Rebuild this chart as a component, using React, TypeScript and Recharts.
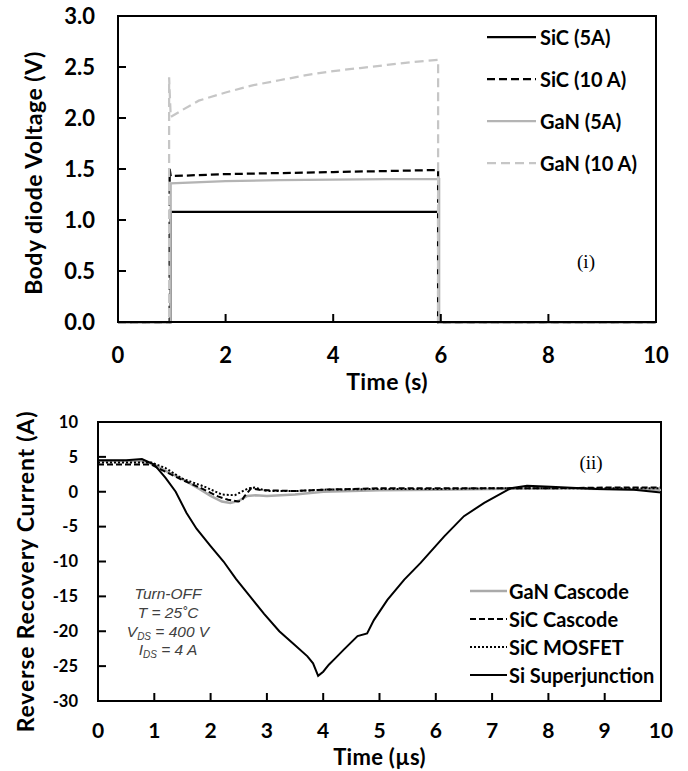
import React from 'react';
import { LineChart, Line, XAxis, YAxis, Legend } from 'recharts';

const FONT = 'Lato, "Open Sans", "DejaVu Sans", sans-serif';
const BLACK = '#000000';

// ---------- Chart (i): body diode voltage ----------
const topXTicks = [0, 2, 4, 6, 8, 10];
const topYTicks = [0, 0.5, 1, 1.5, 2, 2.5, 3];

const sic5Time = [0, 0.98, 0.98, 5.95, 5.95, 10];
const sic5Volt = [0, 0, 1.08, 1.08, 0, 0];

const sic10Time = [0, 0.96, 0.96, 0.98, 2, 3, 4, 5, 5.95, 5.95, 10];
const sic10Volt = [0, 0, 1.5, 1.43, 1.45, 1.46, 1.47, 1.48, 1.49, 0, 0];

const gan5Time = [0, 0.98, 0.98, 2, 3, 4, 5, 5.97, 5.97, 10];
const gan5Volt = [0, 0, 1.36, 1.38, 1.39, 1.395, 1.4, 1.4, 0, 0];

const gan10Time = [0, 0.95, 0.95, 0.98, 1.2, 1.5, 2, 2.5, 3, 3.5, 4, 4.5, 5, 5.5, 5.95, 5.95, 10];
const gan10Volt = [0, 0, 2.4, 2.01, 2.08, 2.17, 2.25, 2.32, 2.37, 2.42, 2.46, 2.49, 2.52, 2.55, 2.57, 0, 0];

// ---------- Chart (ii): reverse recovery current ----------
const botXTicks = [0, 1, 2, 3, 4, 5, 6, 7, 8, 9, 10];
const botYTicks = [-30, -25, -20, -15, -10, -5, 0, 5, 10];

const ganCasTime = [0, 0.8, 1.0, 1.2, 1.5, 1.8, 2.0, 2.2, 2.35, 2.5, 2.65, 2.8, 3.0, 3.5, 4.0, 5.0, 6.0, 7.0, 8.0, 9.0, 10];
const ganCasCurr = [4.4, 4.4, 3.9, 3.0, 1.8, 0.4, -0.6, -1.4, -1.6, -1.3, -0.6, -0.5, -0.6, -0.4, 0, 0.2, 0.3, 0.4, 0.5, 0.4, 0.3];

const sicCasTime = [0, 0.95, 1.13, 1.49, 1.84, 2.13, 2.31, 2.49, 2.55, 2.6, 2.72, 2.9, 3.5, 4.0, 5.0, 6.0, 7.0, 8.0, 9.0, 10];
const sicCasCurr = [3.9, 3.9, 3.15, 1.72, 0.48, -0.67, -1.15, -1.4, -1.3, -0.67, 0.48, 0.24, 0.1, 0.3, 0.5, 0.5, 0.5, 0.5, 0.6, 0.6];

const sicMosTime = [0, 0.95, 1.2, 1.49, 1.9, 2.2, 2.43, 2.67, 2.78, 3.02, 3.5, 4.0, 5.0, 6.0, 7.0, 8.0, 9.0, 10];
const sicMosCurr = [4.2, 4.2, 3.4, 1.9, 0.7, -0.4, -0.5, 0.5, 0.6, 0.1, 0.1, 0.3, 0.4, 0.4, 0.5, 0.5, 0.5, 0.5];

const siSjTime = [0, 0.5, 0.78, 1.0, 1.2, 1.38, 1.57, 1.75, 2.0, 2.23, 2.45, 2.7, 2.95, 3.22, 3.5, 3.72, 3.82, 3.91, 4.0, 4.1, 4.2, 4.37, 4.61, 4.78, 4.9, 5.14, 5.44, 5.73, 6.15, 6.5, 6.86, 7.33, 7.62, 8.04, 8.86, 9.52, 10];
const siSjCurr = [4.5, 4.5, 4.7, 3.9, 2.0, 0, -3.0, -5.3, -7.8, -10, -12.5, -15, -17.5, -20, -22, -23.6, -24.6, -26.4, -25.8, -24.8, -24.0, -22.6, -20.7, -20.3, -18.4, -15.5, -12.6, -10.2, -6.4, -3.5, -1.6, 0.5, 0.85, 0.7, 0.4, 0.3, -0.1];

const zip = (t: number[], v: number[]) => t.map((x, i) => ({ t: x, v: v[i] }));

type Series = { name: string; data: { t: number; v: number }[]; color: string; width: number; dash?: string };

const topSeries: Series[] = [
  { name: 'SiC (5A)', data: zip(sic5Time, sic5Volt), color: BLACK, width: 2.25 },
  { name: 'SiC (10 A)', data: zip(sic10Time, sic10Volt), color: BLACK, width: 2.25, dash: '8 4' },
  { name: 'GaN (5A)', data: zip(gan5Time, gan5Volt), color: '#b4b4b4', width: 2.25 },
  { name: 'GaN (10 A)', data: zip(gan10Time, gan10Volt), color: '#c6c6c6', width: 2.25, dash: '9 5' },
];

const botSeries: Series[] = [
  { name: 'GaN Cascode', data: zip(ganCasTime, ganCasCurr), color: '#aaaaaa', width: 2.5 },
  { name: 'SiC Cascode', data: zip(sicCasTime, sicCasCurr), color: BLACK, width: 2, dash: '6 3' },
  { name: 'SiC MOSFET', data: zip(sicMosTime, sicMosCurr), color: BLACK, width: 2, dash: '2 2' },
  { name: 'Si Superjunction', data: zip(siSjTime, siSjCurr), color: BLACK, width: 2 },
];

// chart geometry (page pixels) – used for the charts' margins and the plot frame
const TOP = { chartTop: 0, height: 398, left: 118, top: 16, right: 656, bottom: 322, xDomain: [0, 10], yDomain: [0, 3] };
const BOT = { chartTop: 390, height: 381, left: 98, top: 422, right: 661, bottom: 701, xDomain: [0, 10], yDomain: [-30, 10] };

const LegendRows = ({ items, rowH, lineW, gap, fontSize }: { items: Series[]; rowH: number; lineW: number; gap: number; fontSize: number }) => (
  <div style={{ fontFamily: FONT, fontWeight: 700, fontSize, color: BLACK, lineHeight: 1 }}>
    {items.map((it) => (
      <div key={it.name} style={{ display: 'flex', alignItems: 'center', height: rowH }}>
        <svg width={lineW} height={6} style={{ display: 'block' }}>
          <line x1={0} y1={3} x2={lineW} y2={3} stroke={it.color} strokeWidth={it.width} strokeDasharray={it.dash} />
        </svg>
        <span style={{ marginLeft: gap, whiteSpace: 'nowrap' }}>{it.name}</span>
      </div>
    ))}
  </div>
);

const rotatedTitle = (text: string, dxFromLeft: number, dyShift: number, size: number, ls: number) => (props: any) => {
  const vb = props.viewBox || {};
  const x = (vb.x ?? 0) + dxFromLeft;
  const y = (vb.y ?? 0) + (vb.height ?? 0) / 2 + dyShift;
  return (
    <text x={x} y={y} transform={`rotate(-90, ${x}, ${y})`} textAnchor="middle" dominantBaseline="central"
      fontFamily={FONT} fontWeight={700} fontSize={size} letterSpacing={ls} fill={BLACK}>{text}</text>
  );
};

const bottomTitle = (text: string, dyFromTop: number, size: number, ls: number) => (props: any) => {
  const vb = props.viewBox || {};
  const x = (vb.x ?? 0) + (vb.width ?? 0) / 2;
  const y = (vb.y ?? 0) + dyFromTop;
  return (
    <text x={x} y={y} textAnchor="middle" dominantBaseline="central"
      fontFamily={FONT} fontWeight={700} fontSize={size} letterSpacing={ls} fill={BLACK}>{text}</text>
  );
};

// axis ticks: inward tick mark + bold label, placed by the axis itself
const makeXTick = (margin: number, len: number, size: number) => (props: any) => {
  const x = Number(props.x);
  const y = Number(props.y);
  const axisY = y - margin;
  return (
    <g>
      <line x1={x} y1={axisY} x2={x} y2={axisY - len} stroke={BLACK} strokeWidth={2} />
      <text x={x} y={y} dy="0.71em" textAnchor="middle" fontFamily={FONT} fontWeight={700} fontSize={size} fill={BLACK}>{props.payload.value}</text>
    </g>
  );
};
const makeYTick = (margin: number, len: number, size: number, digits: number) => (props: any) => {
  const x = Number(props.x);
  const y = Number(props.y);
  const axisX = x + margin;
  return (
    <g>
      <line x1={axisX} y1={y} x2={axisX + len} y2={y} stroke={BLACK} strokeWidth={2} />
      <text x={x} y={y} dy="0.355em" textAnchor="end" fontFamily={FONT} fontWeight={700} fontSize={size} fill={BLACK}>{Number(props.payload.value).toFixed(digits)}</text>
    </g>
  );
};

type Geo = typeof TOP;
// plot frame border (beneath the chart so the grey zero traces sit on top of it)
const FrameBox = ({ g }: { g: Geo }) => (
  <div style={{ position: 'absolute', left: g.left - 1, top: g.top - 1, width: g.right - g.left + 2, height: g.bottom - g.top + 2,
    boxSizing: 'border-box', border: `2px solid ${BLACK}`, pointerEvents: 'none' }} />
);

const axisLineStyle = { stroke: BLACK, strokeWidth: 2 };

export default function App() {
  return (
    <div style={{ position: 'absolute', left: 0, top: 0, width: 688, height: 771, background: '#ffffff' }}>
      <FrameBox g={TOP} />
      <FrameBox g={BOT} />

      <div style={{ position: 'absolute', left: 0, top: TOP.chartTop }}>
        <LineChart width={688} height={TOP.height}
          margin={{ top: TOP.top - TOP.chartTop, right: 688 - TOP.right, bottom: 0, left: 0 }}>
          <XAxis dataKey="t" type="number" domain={TOP.xDomain} ticks={topXTicks} height={TOP.chartTop + TOP.height - TOP.bottom}
            axisLine={axisLineStyle} tickLine={false} tickSize={0} tickMargin={25}
            tick={makeXTick(25, 8, 22)} allowDataOverflow
            label={{ content: bottomTitle('Time (s)', 59, 23, 0.4) }} />
          <YAxis type="number" domain={TOP.yDomain} ticks={topYTicks} width={TOP.left}
            axisLine={axisLineStyle} tickLine={false} tickSize={0} tickMargin={23}
            tick={makeYTick(23, 8, 22, 1)}
            label={{ content: rotatedTitle('Body diode Voltage (V)', 33, 4, 23, 0.5) }} />
          {topSeries.map((s) => (
            <Line key={s.name} data={s.data} dataKey="v" name={s.name} type="linear" stroke={s.color}
              strokeWidth={s.width} strokeDasharray={s.dash} dot={false} activeDot={false} isAnimationActive={false} />
          ))}
          <Legend layout="horizontal" verticalAlign="middle" align="center"
            wrapperStyle={{ position: 'absolute', left: 487, top: 16, width: 195 }}
            content={() => <LegendRows items={topSeries} rowH={42} lineW={49} gap={4} fontSize={20} />} />
        </LineChart>
      </div>

      <div style={{ position: 'absolute', left: 0, top: BOT.chartTop }}>
        <LineChart width={688} height={BOT.height}
          margin={{ top: BOT.top - BOT.chartTop, right: 688 - BOT.right, bottom: 0, left: 0 }}>
          <XAxis dataKey="t" type="number" domain={BOT.xDomain} ticks={botXTicks} height={BOT.chartTop + BOT.height - BOT.bottom}
            axisLine={axisLineStyle} tickLine={false} tickSize={0} tickMargin={22.5}
            tick={makeXTick(22.5, 8, 21)} allowDataOverflow
            label={{ content: bottomTitle('Time (µs)', 55, 22, 0.3) }} />
          <YAxis type="number" domain={BOT.yDomain} ticks={botYTicks} width={BOT.left}
            axisLine={axisLineStyle} tickLine={false} tickSize={0} tickMargin={20}
            tick={makeYTick(20, 8, 16.5, 0)}
            label={{ content: rotatedTitle('Reverse Recovery Current (A)', 25, 10, 23, 0.8) }} />
          {botSeries.map((s) => (
            <Line key={s.name} data={s.data} dataKey="v" name={s.name} type="linear" stroke={s.color}
              strokeWidth={s.width} strokeDasharray={s.dash} dot={false} activeDot={false} isAnimationActive={false} />
          ))}
          <Legend layout="horizontal" verticalAlign="middle" align="center"
            wrapperStyle={{ position: 'absolute', left: 470, top: 187, width: 210 }}
            content={() => <LegendRows items={botSeries} rowH={28} lineW={37} gap={2} fontSize={20} />} />
        </LineChart>
      </div>

      <svg width={688} height={771} style={{ position: 'absolute', left: 0, top: 0, pointerEvents: 'none' }}>
        <text x={586} y={268} fontFamily="'Liberation Serif', 'Times New Roman', serif" fontSize={19} textAnchor="middle" fill={BLACK}>(i)</text>
        <text x={591} y={469} fontFamily="'Liberation Serif', 'Times New Roman', serif" fontSize={19} textAnchor="middle" fill={BLACK}>(ii)</text>
        <g fontFamily="'Liberation Sans', Arial, sans-serif" fontStyle="italic" fontSize={15.5} fill="#404040" textAnchor="middle">
          <text x={168} y={598.5}>Turn-OFF</text>
          <text x={168} y={617.5}>T = 25˚C</text>
          <text x={168} y={636.5}>V<tspan fontSize={10} dy={3}>DS</tspan><tspan dy={-3}> = 400 V</tspan></text>
          <text x={168} y={654.5}>I<tspan fontSize={10} dy={3}>DS</tspan><tspan dy={-3}> = 4 A</tspan></text>
        </g>
      </svg>
    </div>
  );
}
